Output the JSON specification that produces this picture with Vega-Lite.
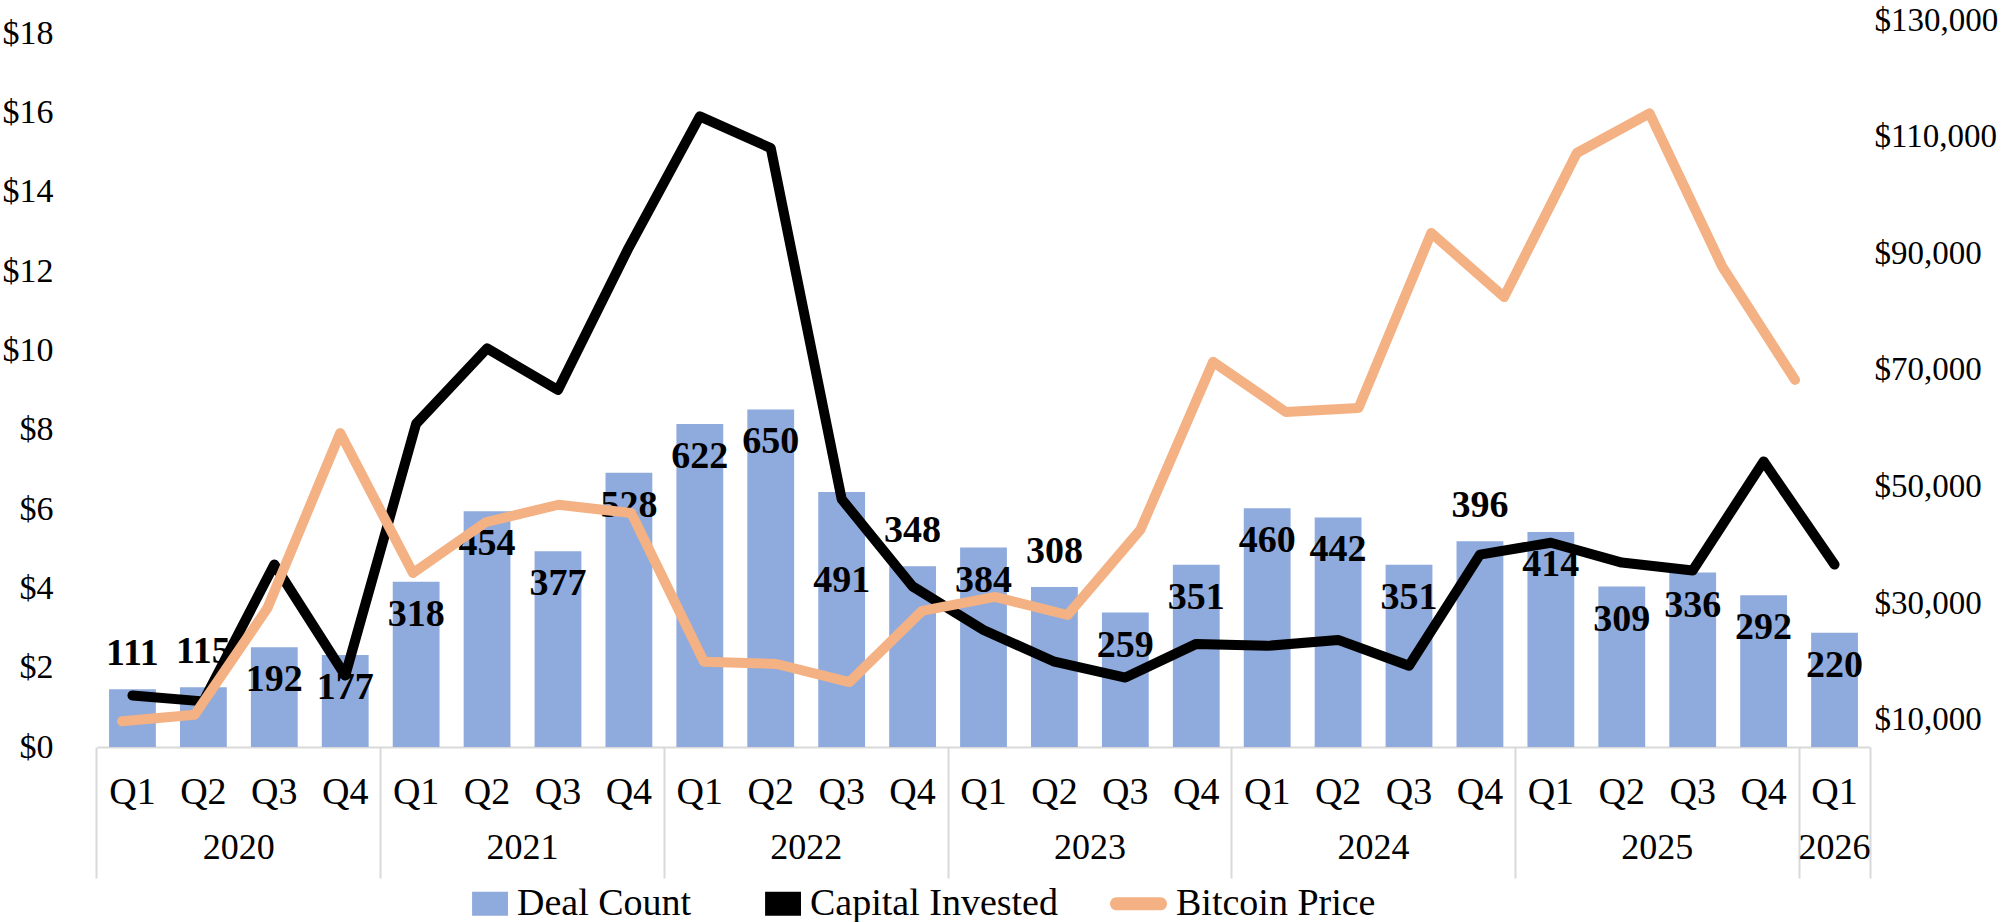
{
  "$schema": "https://vega.github.io/schema/vega-lite/v6.json",
  "width": 1773,
  "height": 727,
  "autosize": {"type": "none"},
  "padding": {"left": 97, "top": 20, "right": 133, "bottom": 175},
  "background": "white",
  "config": {
    "view": {"stroke": null},
    "font": "Liberation Serif",
    "axis": {"labelFont": "Liberation Serif", "labelColor": "#000000", "labelFontSize": 33, "grid": false, "title": null, "labelLimit": 0},
    "legend": {"labelFont": "Liberation Serif", "labelLimit": 0}
  },
  "data": {
    "values": [
      {"period": "2020 Q1", "deals": 111, "capital": 1.3, "btc": 9800},
      {"period": "2020 Q2", "deals": 115, "capital": 1.15, "btc": 10900},
      {"period": "2020 Q3", "deals": 192, "capital": 4.6, "btc": 29200},
      {"period": "2020 Q4", "deals": 177, "capital": 1.8, "btc": 59200},
      {"period": "2021 Q1", "deals": 318, "capital": 8.15, "btc": 35200},
      {"period": "2021 Q2", "deals": 454, "capital": 10.05, "btc": 43900},
      {"period": "2021 Q3", "deals": 377, "capital": 9.0, "btc": 46900},
      {"period": "2021 Q4", "deals": 528, "capital": 12.6, "btc": 45500},
      {"period": "2022 Q1", "deals": 622, "capital": 15.9, "btc": 20000},
      {"period": "2022 Q2", "deals": 650, "capital": 15.1, "btc": 19600},
      {"period": "2022 Q3", "deals": 491, "capital": 6.25, "btc": 16500},
      {"period": "2022 Q4", "deals": 348, "capital": 4.05, "btc": 28700},
      {"period": "2023 Q1", "deals": 384, "capital": 2.95, "btc": 31100},
      {"period": "2023 Q2", "deals": 308, "capital": 2.15, "btc": 28000},
      {"period": "2023 Q3", "deals": 259, "capital": 1.75, "btc": 42600},
      {"period": "2023 Q4", "deals": 351, "capital": 2.6, "btc": 71400},
      {"period": "2024 Q1", "deals": 460, "capital": 2.55, "btc": 62800},
      {"period": "2024 Q2", "deals": 442, "capital": 2.7, "btc": 63500},
      {"period": "2024 Q3", "deals": 351, "capital": 2.05, "btc": 93500},
      {"period": "2024 Q4", "deals": 396, "capital": 4.85, "btc": 82500},
      {"period": "2025 Q1", "deals": 414, "capital": 5.15, "btc": 107200},
      {"period": "2025 Q2", "deals": 309, "capital": 4.65, "btc": 114000},
      {"period": "2025 Q3", "deals": 336, "capital": 4.45, "btc": 87700},
      {"period": "2025 Q4", "deals": 292, "capital": 7.2, "btc": 68300},
      {"period": "2026 Q1", "deals": 220, "capital": 4.6, "btc": null}
    ]
  },
  "resolve": {
    "scale": {"x": "independent", "y": "independent"},
    "axis": {"x": "independent", "y": "independent"}
  },
  "layer": [
    {
      "resolve": {"axis": {"x": "independent"}},
      "layer": [
        {
          "mark": {"type": "bar"},
          "encoding": {
            "x": {
              "field": "period", "type": "ordinal",
              "scale": {"paddingInner": 0.34, "paddingOuter": 0.17},
              "axis": {
                "orient": "bottom",
                "labelExpr": "split(datum.value, ' ')[1]",
                "ticks": false,
                "domain": true,
                "domainColor": "#d9d9d9",
                "domainWidth": 2,
                "labelPadding": 45,
                "labelBaseline": "middle",
                "labelAngle": 0,
                "labelFontSize": 38
              }
            },
            "y": {"field": "deals", "type": "quantitative", "scale": {"domain": [0, 1383]}, "axis": null},
            "color": {
              "datum": "Deal Count", "type": "nominal",
              "scale": {"domain": ["Deal Count", "Capital Invested", "Bitcoin Price"], "range": ["#8FAADC", "#000000", "#F4B183"]},
              "legend": {
                "title": null,
                "orient": "none",
                "direction": "horizontal",
                "legendX": 354,
                "legendY": 855,
                "padding": 0,
                "labelFontSize": 38,
                "labelColor": "#000000",
                "labelOffset": 9,
                "columnPadding": 52,
                "symbolSize": 3249,
                "symbolStrokeWidth": 0,
                "encode": {
                  "symbols": {
                    "update": {
                      "shape": {"signal": "datum.value === 'Bitcoin Price' ? 'M-0.77,-0.23 L0.77,-0.23 A0.23,0.23 0 0 1 0.77,0.23 L-0.77,0.23 A0.23,0.23 0 0 1 -0.77,-0.23 Z' : 'M-0.26,-0.42 L1,-0.42 L1,0.42 L-0.26,0.42 Z'"},
                      "fill": {"signal": "scale('color', datum.value)"},
                      "stroke": {"value": "transparent"},
                      "opacity": {"value": 1},
                      "fillOpacity": {"value": 1}
                    }
                  }
                }
              }
            }
          }
        },
        {
          "transform": [{"filter": {"not": {"field": "period", "oneOf": ["2020 Q1", "2020 Q2", "2022 Q4", "2023 Q2", "2024 Q4", "2022 Q3"]}}}],
          "mark": {"type": "text", "fontWeight": "bold", "fontSize": 38, "dy": 33, "baseline": "middle", "align": "center", "font": "Liberation Serif", "color": "#000000"},
          "encoding": {
            "x": {
              "field": "period", "type": "ordinal",
              "axis": {
                "orient": "bottom",
                "values": ["2020 Q1", "2021 Q1", "2022 Q1", "2023 Q1", "2024 Q1", "2025 Q1", "2026 Q1"],
                "bandPosition": -0.2576,
                "tickSize": 131,
                "tickColor": "#d9d9d9",
                "tickWidth": 2,
                "domain": false,
                "labelExpr": "datum.value === '2026 Q1' ? '' : slice(datum.value, 0, 4)",
                "labelOffset": 106.4,
                "labelPadding": -31,
                "labelBaseline": "middle",
                "labelAngle": 0,
                "labelFontSize": 36
              }
            },
            "y": {"field": "deals", "type": "quantitative"},
            "text": {"field": "deals", "type": "quantitative"}
          }
        },
        {
          "transform": [{"filter": {"field": "period", "oneOf": ["2020 Q1", "2020 Q2", "2022 Q4", "2023 Q2", "2024 Q4"]}}],
          "mark": {"type": "text", "fontWeight": "bold", "fontSize": 38, "dy": -35, "baseline": "middle", "align": "center", "font": "Liberation Serif", "color": "#000000"},
          "encoding": {
            "x": {
              "field": "period", "type": "ordinal",
              "axis": {
                "orient": "bottom",
                "values": ["2026 Q1"],
                "bandPosition": 1.2576,
                "tickSize": 131,
                "tickColor": "#d9d9d9",
                "tickWidth": 2,
                "domain": false,
                "labelExpr": "slice(datum.value, 0, 4)",
                "labelOffset": 0,
                "labelPadding": -31,
                "labelBaseline": "middle",
                "labelAngle": 0,
                "labelFontSize": 36
              }
            },
            "y": {"field": "deals", "type": "quantitative"},
            "text": {"field": "deals", "type": "quantitative"}
          }
        },
        {
          "transform": [{"filter": {"field": "period", "oneOf": ["2022 Q3"]}}],
          "mark": {"type": "text", "fontWeight": "bold", "fontSize": 38, "dy": 89, "baseline": "middle", "align": "center", "font": "Liberation Serif", "color": "#000000"},
          "encoding": {
            "x": {"field": "period", "type": "ordinal", "axis": null},
            "y": {"field": "deals", "type": "quantitative"},
            "text": {"field": "deals", "type": "quantitative"}
          }
        }
      ]
    },
    {
      "mark": {"type": "line", "strokeWidth": 10, "strokeCap": "round", "strokeJoin": "round"},
      "encoding": {
        "x": {"field": "period", "type": "ordinal", "scale": {"type": "band", "paddingInner": 0.34, "paddingOuter": 0.17}, "axis": null},
        "y": {
          "field": "capital", "type": "quantitative",
          "scale": {"domain": [0, 18.33]},
          "axis": {
            "orient": "left",
            "values": [0, 2, 4, 6, 8, 10, 12, 14, 16, 18],
            "labelExpr": "'$' + datum.value",
            "domain": false,
            "ticks": false,
            "labelPadding": 44,
            "labelFontSize": 34
          }
        },
        "color": {"datum": "Capital Invested", "type": "nominal"}
      }
    },
    {
      "transform": [{"filter": "datum.btc != null"}],
      "mark": {"type": "line", "strokeWidth": 10, "strokeCap": "round", "strokeJoin": "round"},
      "encoding": {
        "x": {"field": "period", "type": "ordinal", "scale": {"type": "point", "padding": 0.687, "align": 0.25}, "axis": null},
        "y": {
          "field": "btc", "type": "quantitative",
          "scale": {"domain": [5371, 130000]},
          "axis": {
            "orient": "right",
            "values": [10000, 30000, 50000, 70000, 90000, 110000, 130000],
            "labelExpr": "'$' + format(datum.value, ',')",
            "domain": false,
            "ticks": false,
            "labelPadding": 4,
            "labelFontSize": 33
          }
        },
        "color": {"datum": "Bitcoin Price", "type": "nominal"}
      }
    }
  ]
}
